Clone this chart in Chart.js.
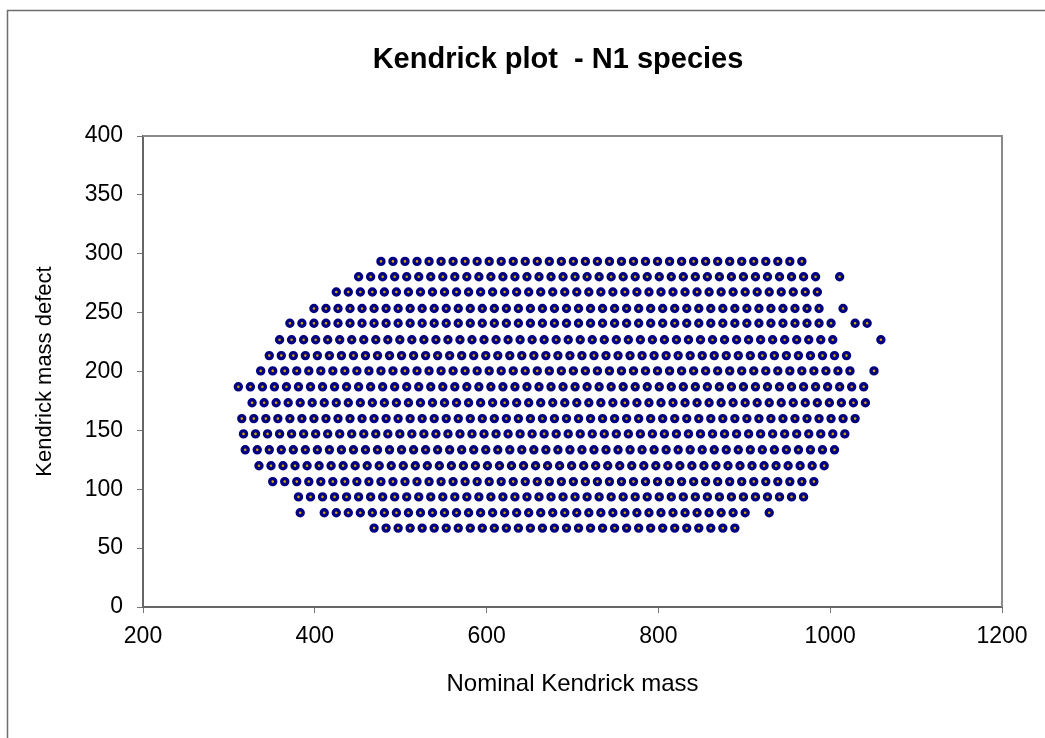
<!DOCTYPE html>
<html>
<head>
<meta charset="utf-8">
<script src="https://cdn.jsdelivr.net/npm/chart.js@4.4.1/dist/chart.umd.min.js"></script>
<style>
  html, body { margin: 0; padding: 0; background: #fff; overflow: hidden; }
  #grafico { display: block; }
</style>
</head>
<body>
<canvas id="grafico" width="1045" height="738"></canvas>
<script>
const titulo = "Kendrick plot  - N1 species";
const tituloX = "Nominal Kendrick mass";
const tituloY = "Kendrick mass defect";

// Kendrick mass defect of each homologous row (top to bottom)
const defeitos = [293.5, 280.5, 267.5, 253.5, 241, 227, 213.5, 200.5, 187, 173.5, 160, 147, 133.5, 120, 106.5, 93.5, 80, 67];

// nominal Kendrick masses found on each row
const linha1 = [477, 491, 505, 519, 533, 547, 561, 575, 589, 603, 617, 631, 645, 659, 673, 687, 701, 715, 729, 743, 757, 771, 785, 799, 813, 827, 841, 855, 869, 883, 897, 911, 925, 939, 953, 967];
const linha2 = [451, 465, 479, 493, 507, 521, 535, 549, 563, 577, 591, 605, 619, 633, 647, 661, 675, 689, 703, 717, 731, 745, 759, 773, 787, 801, 815, 829, 843, 857, 871, 885, 899, 913, 927, 941, 955, 969, 983, 1011];
const linha3 = [425, 439, 453, 467, 481, 495, 509, 523, 537, 551, 565, 579, 593, 607, 621, 635, 649, 663, 677, 691, 705, 719, 733, 747, 761, 775, 789, 803, 817, 831, 845, 859, 873, 887, 901, 915, 929, 943, 957, 971, 985];
const linha4 = [399, 413, 427, 441, 455, 469, 483, 497, 511, 525, 539, 553, 567, 581, 595, 609, 623, 637, 651, 665, 679, 693, 707, 721, 735, 749, 763, 777, 791, 805, 819, 833, 847, 861, 875, 889, 903, 917, 931, 945, 959, 973, 987, 1015];
const linha5 = [371, 385, 399, 413, 427, 441, 455, 469, 483, 497, 511, 525, 539, 553, 567, 581, 595, 609, 623, 637, 651, 665, 679, 693, 707, 721, 735, 749, 763, 777, 791, 805, 819, 833, 847, 861, 875, 889, 903, 917, 931, 945, 959, 973, 987, 1001, 1029, 1043];
const linha6 = [359, 373, 387, 401, 415, 429, 443, 457, 471, 485, 499, 513, 527, 541, 555, 569, 583, 597, 611, 625, 639, 653, 667, 681, 695, 709, 723, 737, 751, 765, 779, 793, 807, 821, 835, 849, 863, 877, 891, 905, 919, 933, 947, 961, 975, 989, 1003, 1059];
const linha7 = [347, 361, 375, 389, 403, 417, 431, 445, 459, 473, 487, 501, 515, 529, 543, 557, 571, 585, 599, 613, 627, 641, 655, 669, 683, 697, 711, 725, 739, 753, 767, 781, 795, 809, 823, 837, 851, 865, 879, 893, 907, 921, 935, 949, 963, 977, 991, 1005, 1019];
const linha8 = [337, 351, 365, 379, 393, 407, 421, 435, 449, 463, 477, 491, 505, 519, 533, 547, 561, 575, 589, 603, 617, 631, 645, 659, 673, 687, 701, 715, 729, 743, 757, 771, 785, 799, 813, 827, 841, 855, 869, 883, 897, 911, 925, 939, 953, 967, 981, 995, 1009, 1023, 1051];
const linha9 = [311, 325, 339, 353, 367, 381, 395, 409, 423, 437, 451, 465, 479, 493, 507, 521, 535, 549, 563, 577, 591, 605, 619, 633, 647, 661, 675, 689, 703, 717, 731, 745, 759, 773, 787, 801, 815, 829, 843, 857, 871, 885, 899, 913, 927, 941, 955, 969, 983, 997, 1011, 1025, 1039];
const linha10 = [327, 341, 355, 369, 383, 397, 411, 425, 439, 453, 467, 481, 495, 509, 523, 537, 551, 565, 579, 593, 607, 621, 635, 649, 663, 677, 691, 705, 719, 733, 747, 761, 775, 789, 803, 817, 831, 845, 859, 873, 887, 901, 915, 929, 943, 957, 971, 985, 999, 1013, 1027, 1041];
const linha11 = [315, 329, 343, 357, 371, 385, 399, 413, 427, 441, 455, 469, 483, 497, 511, 525, 539, 553, 567, 581, 595, 609, 623, 637, 651, 665, 679, 693, 707, 721, 735, 749, 763, 777, 791, 805, 819, 833, 847, 861, 875, 889, 903, 917, 931, 945, 959, 973, 987, 1001, 1015, 1029];
const linha12 = [317, 331, 345, 359, 373, 387, 401, 415, 429, 443, 457, 471, 485, 499, 513, 527, 541, 555, 569, 583, 597, 611, 625, 639, 653, 667, 681, 695, 709, 723, 737, 751, 765, 779, 793, 807, 821, 835, 849, 863, 877, 891, 905, 919, 933, 947, 961, 975, 989, 1003, 1017];
const linha13 = [319, 333, 347, 361, 375, 389, 403, 417, 431, 445, 459, 473, 487, 501, 515, 529, 543, 557, 571, 585, 599, 613, 627, 641, 655, 669, 683, 697, 711, 725, 739, 753, 767, 781, 795, 809, 823, 837, 851, 865, 879, 893, 907, 921, 935, 949, 963, 977, 991, 1005];
const linha14 = [335, 349, 363, 377, 391, 405, 419, 433, 447, 461, 475, 489, 503, 517, 531, 545, 559, 573, 587, 601, 615, 629, 643, 657, 671, 685, 699, 713, 727, 741, 755, 769, 783, 797, 811, 825, 839, 853, 867, 881, 895, 909, 923, 937, 951, 965, 979, 993];
const linha15 = [351, 365, 379, 393, 407, 421, 435, 449, 463, 477, 491, 505, 519, 533, 547, 561, 575, 589, 603, 617, 631, 645, 659, 673, 687, 701, 715, 729, 743, 757, 771, 785, 799, 813, 827, 841, 855, 869, 883, 897, 911, 925, 939, 953, 967, 981];
const linha16 = [381, 395, 409, 423, 437, 451, 465, 479, 493, 507, 521, 535, 549, 563, 577, 591, 605, 619, 633, 647, 661, 675, 689, 703, 717, 731, 745, 759, 773, 787, 801, 815, 829, 843, 857, 871, 885, 899, 913, 927, 941, 955, 969];
const linha17 = [383, 411, 425, 439, 453, 467, 481, 495, 509, 523, 537, 551, 565, 579, 593, 607, 621, 635, 649, 663, 677, 691, 705, 719, 733, 747, 761, 775, 789, 803, 817, 831, 845, 859, 873, 887, 901, 929];
const linha18 = [469, 483, 497, 511, 525, 539, 553, 567, 581, 595, 609, 623, 637, 651, 665, 679, 693, 707, 721, 735, 749, 763, 777, 791, 805, 819, 833, 847, 861, 875, 889];

const linhas = [linha1, linha2, linha3, linha4, linha5, linha6, linha7, linha8, linha9,
  linha10, linha11, linha12, linha13, linha14, linha15, linha16, linha17, linha18];

const pontos = [];
linhas.forEach((massas, i) => {
  massas.forEach(m => pontos.push({ x: m, y: defeitos[i] }));
});

const fonte = "'Liberation Sans', Arial, sans-serif";

// moldura externa, titulo e borda da area do grafico
const moldura = {
  id: 'moldura',
  beforeDraw(chart) {
    const ctx = chart.ctx;
    ctx.save();
    ctx.fillStyle = '#fff';
    ctx.fillRect(0, 0, chart.width, chart.height);
    ctx.strokeStyle = '#6e6e6e';
    ctx.lineWidth = 1.5;
    ctx.beginPath();
    ctx.moveTo(7.5, chart.height);
    ctx.lineTo(7.5, 10.5);
    ctx.lineTo(chart.width, 10.5);
    ctx.stroke();
    ctx.fillStyle = '#000';
    ctx.font = 'bold 29px ' + fonte;
    ctx.textAlign = 'center';
    ctx.textBaseline = 'middle';
    ctx.fillText(titulo, 558, 60);
    ctx.restore();
  },
  beforeDatasetsDraw(chart) {
    const { left, top, right, bottom } = chart.chartArea;
    const ctx = chart.ctx;
    ctx.save();
    ctx.strokeStyle = '#8a8a8a';
    ctx.lineWidth = 2;
    ctx.beginPath();
    ctx.moveTo(left, top);
    ctx.lineTo(right, top);
    ctx.lineTo(right, bottom);
    ctx.stroke();
    ctx.restore();
  }
};

const semSeparador = v => String(v);

const ctx = document.getElementById('grafico').getContext('2d');
const chart = new Chart(ctx, {
  type: 'scatter',
  data: {
    datasets: [{
      label: 'N1',
      data: pontos,
      showLine: false,
      pointRadius: 3,
      pointBorderWidth: 3.4,
      pointBorderColor: '#000080',
      pointBackgroundColor: '#d8a800',
      pointHoverRadius: 3
    }]
  },
  options: {
    responsive: false,
    animation: false,
    layout: { padding: { top: 136, left: 0, right: 43, bottom: 0 } },
    scales: {
      x: {
        type: 'linear',
        min: 200,
        max: 1200,
        afterFit: s => { s.height = 131; },
        ticks: { stepSize: 200, color: '#000', padding: 10, maxRotation: 0, callback: semSeparador, font: { family: fonte, size: 23 } },
        grid: { drawOnChartArea: false, tickLength: 6, tickColor: '#777', tickWidth: 1 },
        border: { color: '#666', width: 2 },
        title: {
          display: true,
          text: tituloX,
          color: '#000',
          font: { family: fonte, size: 24 },
          padding: { top: 0, bottom: 39 }
        }
      },
      y: {
        min: 0,
        max: 400,
        afterFit: s => { s.width = 143; },
        ticks: { stepSize: 50, color: '#000', padding: 14, callback: semSeparador, font: { family: fonte, size: 23 } },
        grid: { drawOnChartArea: false, tickLength: 6, tickColor: '#777', tickWidth: 1 },
        border: { color: '#666', width: 2 },
        title: {
          display: true,
          text: tituloY,
          color: '#000',
          font: { family: fonte, size: 22 },
          padding: { top: 32, bottom: 0 }
        }
      }
    },
    plugins: {
      legend: { display: false },
      tooltip: { enabled: false },
      title: { display: false }
    }
  },
  plugins: [moldura]
});
</script>
</body>
</html>
